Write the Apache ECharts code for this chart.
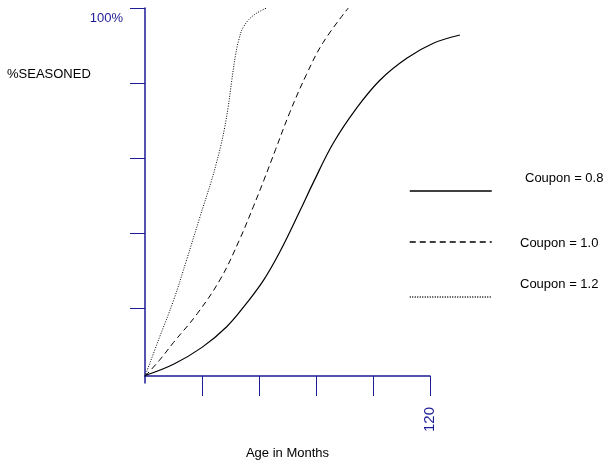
<!DOCTYPE html>
<html>
<head>
<meta charset="utf-8">
<script src="https://cdn.jsdelivr.net/npm/echarts@6/dist/echarts.min.js"></script>
<style>
  html, body { margin: 0; padding: 0; background: #fff; }
  #chart { width: 609px; height: 464px; }
</style>
</head>
<body>
<div id="chart"></div>
<script>
// [month, % seasoned]
var coupon08 = [[0, 2], [12, 5], [24, 9.5], [34.4, 15], [42.8, 21.3], [50, 27.5], [56.8, 35],
    [65.3, 46], [70.9, 53.5], [79.3, 64], [89.1, 73.3], [99, 80.8], [110.2, 86.6], [121.4, 90.6], [132.6, 92.8]];
var coupon10 = [[0, 1.8], [6, 6], [12, 10.8], [22, 18.5], [32, 28], [40, 38.5], [45.6, 47], [50, 54],
    [55, 62.3], [61, 72.2], [68, 82.3], [75, 90.8], [85.6, 100]];
var coupon12 = [[0, 1.8], [6, 12], [12, 22], [17.6, 33], [23, 44], [28, 54], [30, 58.5], [32, 63.5],
    [33.5, 68], [35, 73.5], [36.5, 80.5], [38, 87], [39.5, 91.5], [41.5, 95], [45.6, 98], [51.2, 100]];
var seriesNames = ['Coupon = 0.8', 'Coupon = 1.0', 'Coupon = 1.2'];
var xTicks = [24, 48, 72, 96, 120];
var yTicks = [20, 40, 60, 80, 100];
var xTickLabel = 120;
var yTickLabel = 100;

var axisColor = '#1c1c96';
var font = 'Liberation Sans, Arial, sans-serif';

var chart = echarts.init(document.getElementById('chart'), null, { renderer: 'canvas' });

function legendFor(name, top) {
    return {
        data: [name],
        left: 409,
        top: top,
        padding: 0,
        itemWidth: 82,
        itemHeight: 14,
        selectedMode: false,
        itemStyle: { opacity: 0 },
        lineStyle: { width: 1.5, color: '#000' },
        formatter: function () { return ''; },
        textStyle: { fontSize: 1 }
    };
}

function label(text, left, top) {
    return {
        text: text, left: left, top: top, padding: 0,
        textStyle: { color: '#000', fontSize: 13, fontWeight: 'normal', fontFamily: font }
    };
}

var option = {
    backgroundColor: '#fff',
    animation: false,
    title: [
        label('%SEASONED', 7, 68),
        label(seriesNames[0], 525, 172),
        label(seriesNames[1], 520, 237),
        label(seriesNames[2], 520, 278)
    ],
    legend: [
        legendFor(seriesNames[0], 184),
        legendFor(seriesNames[1], 235),
        legendFor(seriesNames[2], 290)
    ],
    grid: [
        // data area, wider than the drawn axis
        { left: 145, top: 8, right: 131.5, bottom: 81, outerBoundsMode: 'none', containLabel: false },
        // area for the visible axes
        { left: 145, top: 8, width: 285, bottom: 81, outerBoundsMode: 'none', containLabel: false }
    ],
    xAxis: [
        { type: 'value', gridIndex: 0, min: 0, max: 140, show: false },
        {
            type: 'value', gridIndex: 1, min: 0, max: 120, interval: 24,
            offset: -7,
            axisLine: { onZero: false, lineStyle: { color: axisColor, width: 1.5 } },
            axisTick: { length: 20, customValues: xTicks, lineStyle: { color: axisColor, width: 1 } },
            splitLine: { show: false },
            axisLabel: {
                rotate: 90, margin: 31, color: axisColor, fontSize: 15, fontFamily: font,
                formatter: function (v) { return v === xTickLabel ? String(v) : ''; }
            },
            name: 'Age in Months',
            nameLocation: 'middle',
            nameGap: 71,
            nameTextStyle: { color: '#000', fontSize: 13, fontFamily: font }
        }
    ],
    yAxis: [
        { type: 'value', gridIndex: 0, min: 0, max: 100, show: false },
        {
            type: 'value', gridIndex: 1, min: 0, max: 100, interval: 20,
            axisLine: { show: true, onZero: false, lineStyle: { color: axisColor, width: 1.5 } },
            axisTick: { show: true, length: 15, customValues: yTicks, lineStyle: { color: axisColor, width: 1 } },
            splitLine: { show: false },
            axisLabel: {
                margin: 22, color: axisColor, fontSize: 13, fontFamily: font,
                verticalAlign: 'top', padding: [4, 0, 0, 0],
                formatter: function (v) { return v === yTickLabel ? v + '%' : ''; }
            }
        }
    ],
    series: [
        {
            name: seriesNames[0], type: 'line', xAxisIndex: 0, yAxisIndex: 0,
            data: coupon08, smooth: 0.4, symbol: 'none',
            lineStyle: { color: '#000', width: 1.2, type: 'solid' },
            itemStyle: { color: '#000' }
        },
        {
            name: seriesNames[1], type: 'line', xAxisIndex: 0, yAxisIndex: 0,
            data: coupon10, smooth: 0.4, symbol: 'none',
            lineStyle: { color: '#000', width: 1, type: [6, 4] },
            itemStyle: { color: '#000' }
        },
        {
            name: seriesNames[2], type: 'line', xAxisIndex: 0, yAxisIndex: 0,
            data: coupon12, smooth: 0.4, symbol: 'none',
            lineStyle: { color: '#000', width: 1, type: [1, 1.5] },
            itemStyle: { color: '#000' }
        }
    ]
};

chart.setOption(option);
window.addEventListener('resize', function () {
    chart.resize();
});
</script>
</body>
</html>
